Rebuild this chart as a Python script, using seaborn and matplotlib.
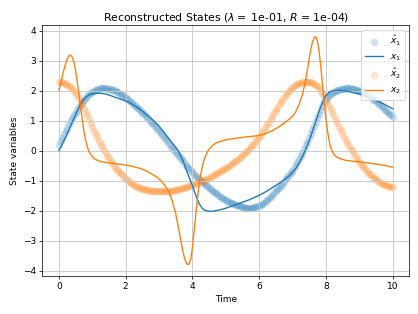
import numpy as np
import seaborn as sns
import matplotlib.pyplot as plt

# sample times of the reconstructed states (dense, drawn as scatter)
t = np.round(np.arange(0, 10.001, 0.05), 2)

xhat1 = [0.20, 0.32, 0.43, 0.55, 0.66, 0.77, 0.88, 0.98, 1.08, 1.18, 1.27, 1.36, 1.45, 1.54, 1.62, 1.69, 1.76, 1.82, 1.88, 1.93,
         1.97, 2.00, 2.03, 2.05, 2.07, 2.08, 2.08, 2.08, 2.08, 2.07, 2.06, 2.05, 2.03, 2.01, 1.98, 1.95, 1.92, 1.89, 1.85, 1.82,
         1.78, 1.74, 1.69, 1.64, 1.59, 1.54, 1.49, 1.44, 1.38, 1.32, 1.26, 1.21, 1.15, 1.09, 1.03, 0.97, 0.91, 0.85, 0.78, 0.72,
         0.65, 0.59, 0.52, 0.45, 0.38, 0.31, 0.24, 0.17, 0.10, 0.03, -0.04, -0.11, -0.18, -0.25, -0.32, -0.39, -0.46, -0.53, -0.59, -0.65,
         -0.71, -0.77, -0.83, -0.89, -0.94, -0.99, -1.04, -1.09, -1.14, -1.19, -1.24, -1.29, -1.33, -1.38, -1.42, -1.46, -1.50, -1.54, -1.57, -1.61,
         -1.64, -1.67, -1.70, -1.73, -1.75, -1.78, -1.80, -1.82, -1.84, -1.86, -1.87, -1.89, -1.90, -1.91, -1.91, -1.91, -1.90, -1.89, -1.88, -1.86,
         -1.84, -1.81, -1.78, -1.74, -1.69, -1.64, -1.58, -1.53, -1.47, -1.41, -1.35, -1.29, -1.23, -1.17, -1.10, -1.03, -0.96, -0.89, -0.81, -0.74,
         -0.66, -0.57, -0.48, -0.38, -0.28, -0.17, -0.06, 0.06, 0.18, 0.30, 0.43, 0.56, 0.70, 0.83, 0.97, 1.10, 1.24, 1.37, 1.50, 1.61,
         1.70, 1.78, 1.84, 1.89, 1.93, 1.96, 1.99, 2.01, 2.03, 2.05, 2.06, 2.07, 2.08, 2.08, 2.08, 2.08, 2.07, 2.06, 2.04, 2.02,
         2.00, 1.98, 1.95, 1.92, 1.89, 1.86, 1.82, 1.78, 1.74, 1.70, 1.65, 1.60, 1.55, 1.50, 1.45, 1.40, 1.34, 1.29, 1.23, 1.18,
         1.12]

xhat2 = [2.30, 2.29, 2.28, 2.26, 2.23, 2.19, 2.15, 2.11, 2.06, 2.00, 1.93, 1.85, 1.76, 1.66, 1.55, 1.43, 1.30, 1.18, 1.05, 0.92,
         0.79, 0.67, 0.56, 0.45, 0.34, 0.23, 0.13, 0.03, -0.07, -0.16, -0.25, -0.34, -0.42, -0.50, -0.57, -0.64, -0.70, -0.76, -0.82, -0.88,
         -0.93, -0.98, -1.03, -1.07, -1.11, -1.15, -1.18, -1.21, -1.23, -1.25, -1.27, -1.29, -1.30, -1.31, -1.32, -1.33, -1.34, -1.35, -1.35, -1.36,
         -1.36, -1.36, -1.36, -1.36, -1.36, -1.36, -1.35, -1.34, -1.33, -1.32, -1.31, -1.30, -1.28, -1.27, -1.25, -1.24, -1.22, -1.20, -1.18, -1.16,
         -1.14, -1.12, -1.10, -1.08, -1.05, -1.03, -1.00, -0.98, -0.95, -0.93, -0.90, -0.87, -0.84, -0.81, -0.78, -0.75, -0.71, -0.68, -0.64, -0.61,
         -0.57, -0.54, -0.50, -0.46, -0.42, -0.38, -0.34, -0.30, -0.25, -0.20, -0.15, -0.10, -0.05, 0.00, 0.06, 0.12, 0.18, 0.24, 0.31, 0.38,
         0.46, 0.54, 0.62, 0.70, 0.79, 0.88, 0.97, 1.06, 1.16, 1.25, 1.35, 1.44, 1.53, 1.62, 1.70, 1.78, 1.86, 1.93, 1.99, 2.05,
         2.10, 2.15, 2.19, 2.22, 2.25, 2.27, 2.29, 2.30, 2.30, 2.30, 2.29, 2.28, 2.26, 2.23, 2.20, 2.15, 2.08, 2.00, 1.91, 1.81,
         1.71, 1.60, 1.49, 1.38, 1.26, 1.15, 1.03, 0.91, 0.80, 0.69, 0.58, 0.47, 0.37, 0.27, 0.17, 0.07, -0.02, -0.11, -0.20, -0.29,
         -0.37, -0.45, -0.52, -0.59, -0.65, -0.71, -0.77, -0.82, -0.87, -0.92, -0.96, -1.00, -1.04, -1.07, -1.10, -1.13, -1.15, -1.17, -1.19, -1.21,
         -1.22]

# simulated state x1
t_x1 = np.round(np.arange(0, 10.01, 0.1), 2)
x1 = [0.00, 0.22, 0.45, 0.69, 0.95, 1.20, 1.45, 1.65, 1.78, 1.86,
      1.90, 1.92, 1.92, 1.91, 1.89, 1.86, 1.82, 1.78, 1.74, 1.70,
      1.66, 1.61, 1.55, 1.48, 1.41, 1.32, 1.23, 1.14, 1.04, 0.93,
      0.82, 0.68, 0.54, 0.39, 0.25, 0.11, -0.05, -0.28, -0.58, -0.88,
      -1.16, -1.48, -1.76, -1.93, -2.00, -2.02, -2.02, -2.00, -1.98, -1.95,
      -1.92, -1.88, -1.84, -1.80, -1.76, -1.72, -1.68, -1.64, -1.59, -1.54,
      -1.49, -1.43, -1.37, -1.30, -1.23, -1.16, -1.09, -1.01, -0.93, -0.84,
      -0.73, -0.59, -0.41, -0.20, 0.05, 0.33, 0.65, 0.98, 1.32, 1.62,
      1.84, 1.95, 2.00, 2.01, 2.01, 2.00, 1.99, 1.97, 1.94, 1.92,
      1.89, 1.85, 1.81, 1.77, 1.73, 1.68, 1.63, 1.58, 1.52, 1.46,
      1.40]

# x2 has sharp spikes, so it is sampled more finely around them
t_x2 = [0.00, 0.05, 0.10, 0.15, 0.20, 0.25, 0.30, 0.35, 0.40, 0.45,
        0.50, 0.55, 0.60, 0.65, 0.70, 0.75, 0.80, 0.85, 0.90, 0.95,
        1.00, 1.10, 1.20, 1.30, 1.40, 1.50, 1.60, 1.70, 1.80, 1.90,
        2.00, 2.10, 2.20, 2.30, 2.40, 2.50, 2.60, 2.70, 2.80, 2.90,
        3.00, 3.10, 3.20, 3.30, 3.40, 3.50, 3.55, 3.60, 3.65, 3.70,
        3.75, 3.80, 3.85, 3.90, 3.95, 4.00, 4.05, 4.10, 4.15, 4.20,
        4.25, 4.30, 4.35, 4.40, 4.45, 4.50, 4.60, 4.70, 4.80, 4.90,
        5.00, 5.20, 5.40, 5.60, 5.80, 6.00, 6.20, 6.40, 6.60, 6.80,
        7.00, 7.10, 7.20, 7.30, 7.35, 7.40, 7.45, 7.50, 7.55, 7.60,
        7.65, 7.70, 7.75, 7.80, 7.85, 7.90, 7.95, 8.00, 8.05, 8.10,
        8.15, 8.20, 8.25, 8.30, 8.40, 8.50, 8.60, 8.80, 9.00, 9.20,
        9.40, 9.60, 9.80, 10.00]
x2 = [2.02, 2.25, 2.48, 2.70, 2.90, 3.06, 3.16, 3.19, 3.12, 2.95,
      2.68, 2.30, 1.88, 1.45, 1.03, 0.66, 0.36, 0.13, -0.02, -0.12,
      -0.20, -0.29, -0.34, -0.37, -0.39, -0.41, -0.42, -0.43, -0.45, -0.46,
      -0.48, -0.50, -0.52, -0.55, -0.58, -0.62, -0.66, -0.72, -0.79, -0.86,
      -0.94, -1.05, -1.20, -1.40, -1.68, -2.10, -2.38, -2.68, -2.98, -3.27,
      -3.52, -3.70, -3.80, -3.78, -3.62, -3.25, -2.72, -2.15, -1.62, -1.15,
      -0.80, -0.52, -0.32, -0.16, -0.04, 0.05, 0.17, 0.25, 0.30, 0.33,
      0.36, 0.40, 0.43, 0.46, 0.48, 0.51, 0.57, 0.67, 0.80, 0.96,
      1.15, 1.30, 1.55, 1.88, 2.12, 2.40, 2.72, 3.06, 3.38, 3.62,
      3.78, 3.80, 3.65, 3.30, 2.80, 2.22, 1.62, 1.08, 0.66, 0.33,
      0.10, -0.04, -0.13, -0.19, -0.25, -0.29, -0.32, -0.35, -0.37, -0.40,
      -0.43, -0.46, -0.50, -0.55]

lam = 1e-1
R = 1e-4

fig, ax = plt.subplots(figsize=(418 / 65, 314 / 65), dpi=65)

sns.scatterplot(x=t, y=xhat1, ax=ax, color='C0', alpha=0.22, s=70, linewidth=0,
                label=r'$\hat{x}_1$')
sns.lineplot(x=t_x1, y=x1, ax=ax, color='C0', sort=False, label=r'$x_1$')
sns.scatterplot(x=t, y=xhat2, ax=ax, color='C1', alpha=0.22, s=70, linewidth=0,
                label=r'$\hat{x}_2$')
sns.lineplot(x=t_x2, y=x2, ax=ax, color='C1', sort=False, label=r'$x_2$')

ax.set_title(f'Reconstructed States ($\\lambda = $ {lam:.0e}, $R$ = {R:.0e})')
ax.set_xlabel('Time')
ax.set_ylabel('State variables')
ax.grid(True, color='#c8c8c8', linewidth=1.0)
ax.legend(loc='upper right')

plt.subplots_adjust(left=0.101, right=0.979, top=0.919, bottom=0.121)
plt.savefig('out.png')
